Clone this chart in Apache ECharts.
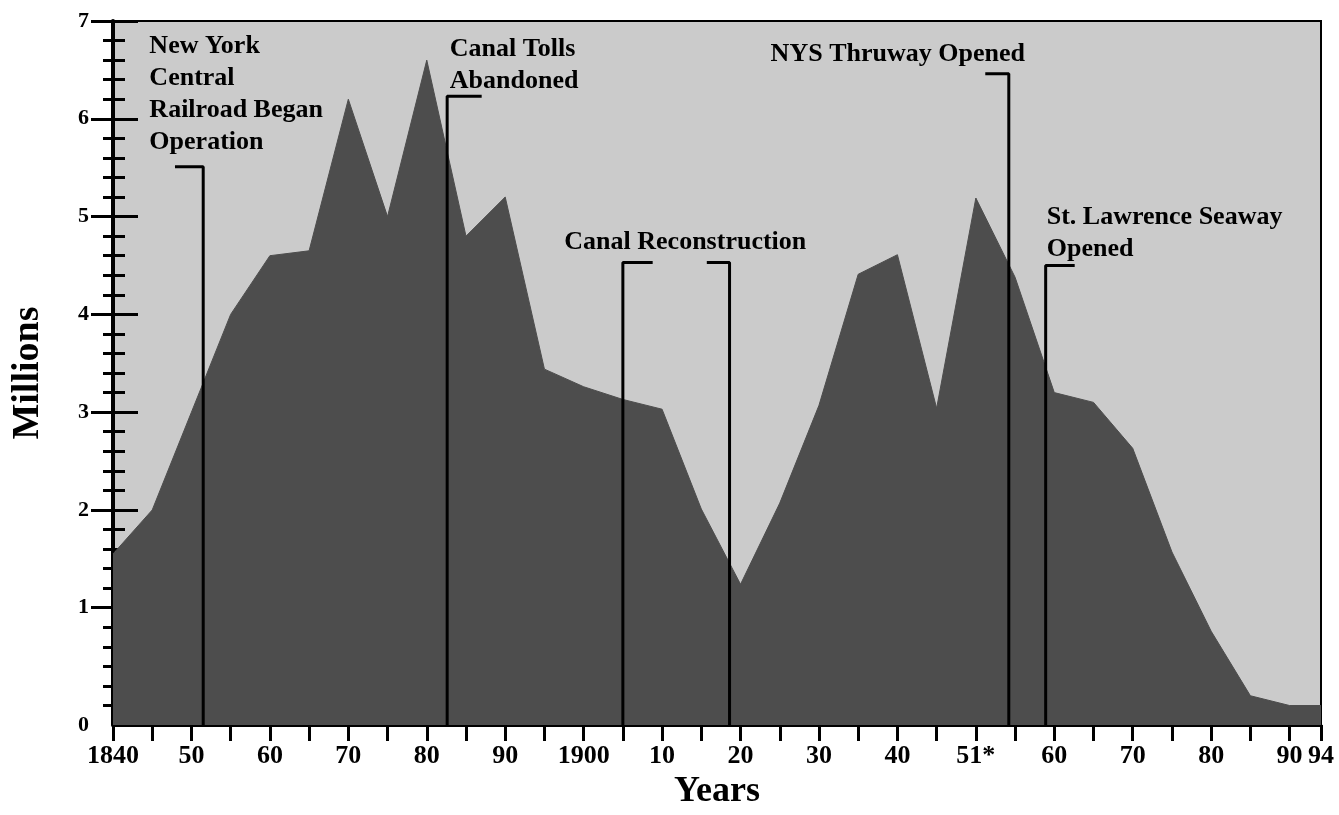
<!DOCTYPE html>
<html>
<head>
<meta charset="utf-8">
<script src="https://cdn.jsdelivr.net/npm/echarts@6/dist/echarts.min.js"></script>
<style>
  html, body { margin: 0; padding: 0; background: #ffffff; }
  #chart { width: 1339px; height: 815px; }
</style>
</head>
<body>
<div id="chart"></div>
<script>
// Canal traffic, millions of tons, 1840-1994
const years = [1840, 1845, 1850, 1855, 1860, 1865, 1870, 1875, 1880, 1885, 1890, 1895,
               1900, 1905, 1910, 1915, 1920, 1925, 1930, 1935, 1940, 1945, 1950, 1955,
               1960, 1965, 1970, 1975, 1980, 1985, 1990, 1994];
const tonnage = [1.55, 2.0, 3.0, 4.0, 4.6, 4.65, 6.2, 5.0, 6.6, 4.8, 5.2, 3.44,
                 3.26, 3.13, 3.03, 2.01, 1.24, 2.07, 3.07, 4.41, 4.61, 3.04, 5.19, 4.38,
                 3.2, 3.1, 2.63, 1.57, 0.76, 0.1, 0.0, 0.0];

// x axis ticks and their labels
const xTickYears = [1840, 1845, 1850, 1855, 1860, 1865, 1870, 1875, 1880, 1885, 1890, 1895,
                    1900, 1905, 1910, 1915, 1920, 1925, 1930, 1935, 1940, 1945, 1950, 1955,
                    1960, 1965, 1970, 1975, 1980, 1985, 1990, 1994];
const xLabelYears = [1840, 1850, 1860, 1870, 1880, 1890, 1900, 1910, 1920, 1930, 1940,
                     1950, 1960, 1970, 1980, 1990, 1994];
const xLabelTexts = ['1840', '50', '60', '70', '80', '90', '1900', '10', '20', '30', '40',
                     '51*', '60', '70', '80', '90', '94'];

// y axis: the baseline sits one minor step under zero and carries the "0"
const yFloor = -0.2;
const yTop = 7;
const yMajorTicks = [1, 2, 3, 4, 5, 6, 7];
const yMinorTicks = [];
for (let i = 0; i <= 34; i++) yMinorTicks.push(+(i * 0.2).toFixed(1));
const yLabelValues = [yFloor, 1, 2, 3, 4, 5, 6, 7];

// events: label text, label anchor [year, value], leader polyline in data units
const eventLabels = [
  'New York\nCentral\nRailroad Began\nOperation',
  'Canal Tolls\nAbandoned',
  'Canal Reconstruction',
  'NYS Thruway Opened',
  'St. Lawrence Seaway\nOpened'
];
const eventLabelAnchors = [[1844.7, 6.90], [1883.0, 6.87], [1897.6, 4.90], [1923.9, 6.82], [1959.1, 5.15]];
const eventLeaders = [
  [[1851.5, yFloor], [1851.5, 5.51], [1847.9, 5.51]],
  [[1882.6, yFloor], [1882.6, 6.23], [1887.0, 6.23]],
  [[1905.0, yFloor], [1905.0, 4.53], [1908.8, 4.53]],
  [[1918.6, yFloor], [1918.6, 4.53], [1915.7, 4.53]],
  [[1954.2, yFloor], [1954.2, 6.46], [1951.2, 6.46]],
  [[1958.9, yFloor], [1958.9, 4.50], [1962.6, 4.50]]
];

const SERIF = "'Liberation Serif', 'Times New Roman', Times, serif";
const INK = '#000000';

const labelByYear = {};
xLabelYears.forEach((y, i) => { labelByYear[y] = xLabelTexts[i]; });

function yTickAxis(values, inside, length) {
  return {
    type: 'value', position: 'left', min: yFloor, max: yTop,
    axisLine: { show: false },
    axisLabel: { show: false },
    splitLine: { show: false },
    axisTick: {
      show: true, inside: inside, length: length, customValues: values,
      lineStyle: { color: INK, width: 3 }
    }
  };
}

const chart = echarts.init(document.getElementById('chart'), null, { renderer: 'canvas' });

const series = [{
  type: 'line',
  data: years.map((y, i) => [y, tonnage[i]]),
  symbol: 'none',
  lineStyle: { width: 1, color: '#4d4d4d' },
  areaStyle: { color: '#4d4d4d', opacity: 1, origin: 'start' },
  z: 2,
  silent: true
}];

eventLeaders.forEach(path => {
  series.push({
    type: 'line',
    data: path,
    symbol: 'none',
    lineStyle: { color: INK, width: 3 },
    z: 4,
    silent: true
  });
});

series.push({
  type: 'scatter',
  data: eventLabels.map((t, i) => ({ value: eventLabelAnchors[i], name: t })),
  symbolSize: 1,
  itemStyle: { color: 'rgba(0,0,0,0)', opacity: 1 },
  z: 5,
  silent: true,
  label: {
    show: true,
    position: [0, 0],
    align: 'left',
    verticalAlign: 'top',
    formatter: p => p.name,
    fontFamily: SERIF,
    fontWeight: 'bold',
    fontSize: 26,
    lineHeight: 32,
    color: INK,
    opacity: 1
  }
});

chart.setOption({
  animation: false,
  backgroundColor: '#ffffff',
  grid: {
    left: 113, right: 18, top: 21, bottom: 84,
    show: true,
    backgroundColor: '#cbcbcb',
    borderColor: INK,
    borderWidth: 2
  },
  xAxis: {
    type: 'value',
    min: 1840, max: 1994,
    name: 'Years',
    nameLocation: 'middle',
    nameGap: 47,
    nameTextStyle: { fontFamily: SERIF, fontWeight: 'bold', fontSize: 36, color: INK },
    axisLine: { show: true, onZero: false, lineStyle: { color: INK, width: 3 } },
    axisTick: {
      show: true, inside: false, length: 16, customValues: xTickYears,
      lineStyle: { color: INK, width: 3 }
    },
    axisLabel: {
      show: true, customValues: xLabelYears, margin: 18,
      formatter: v => labelByYear[Math.round(v)] || '',
      fontFamily: SERIF, fontWeight: 'bold', fontSize: 26, color: INK
    },
    splitLine: { show: false }
  },
  yAxis: [
    {
      type: 'value', position: 'left', min: yFloor, max: yTop,
      name: 'Millions',
      nameLocation: 'middle',
      nameGap: 66,
      nameTextStyle: { fontFamily: SERIF, fontWeight: 'bold', fontSize: 38, color: INK },
      axisLine: { show: true, onZero: false, lineStyle: { color: INK, width: 4 } },
      axisTick: {
        show: true, inside: false, length: 22, customValues: yMajorTicks,
        lineStyle: { color: INK, width: 3 }
      },
      axisLabel: {
        show: true, customValues: yLabelValues, margin: 24,
        formatter: v => (v < 0 ? '0' : String(Math.round(v))),
        fontFamily: SERIF, fontWeight: 'bold', fontSize: 22, color: INK
      },
      splitLine: { show: false }
    },
    yTickAxis(yMajorTicks, true, 25),
    yTickAxis(yMinorTicks, false, 10),
    yTickAxis(yMinorTicks, true, 12)
  ],
  series: series
});
</script>
</body>
</html>
